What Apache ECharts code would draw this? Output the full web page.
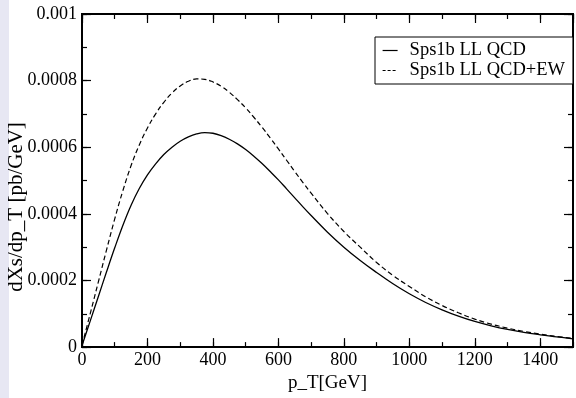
<!DOCTYPE html>
<html>
<head>
<meta charset="utf-8">
<script src="https://cdn.jsdelivr.net/npm/echarts@6/dist/echarts.min.js"></script>
<style>
html,body{margin:0;padding:0;background:#fff;}
#strip{position:absolute;left:0;top:0;width:9px;height:398px;background:#e7e7f3;}
#c{position:absolute;left:0;top:0;width:576px;height:398px;}
</style>
</head>
<body>
<div id="strip"></div>
<div id="c"></div>
<script>
const ptValues = [0,25,50,75,100,125,150,175,200,225,250,275,300,325,350,375,400,425,450,475,500,525,550,575,600,625,650,675,700,750,800,850,900,950,1000,1050,1100,1150,1200,1250,1300,1350,1400,1450,1500];
const qcdValues = [0.000005,0.000078,0.000152,0.000226,0.000298,0.000366,0.000426,0.000476,0.000517,0.00055,0.000578,0.0006,0.000618,0.000631,0.00064,0.000644,0.000642,0.000635,0.000624,0.00061,0.000593,0.000573,0.000551,0.000527,0.000502,0.000475,0.000448,0.000421,0.000395,0.000345,0.0003,0.00026,0.000224,0.00019,0.00016,0.000134,0.000112,0.000093,0.000077,0.000064,0.000053,0.000044,0.000037,0.000031,0.000025];
const qcdEwValues = [0.000005,0.0001,0.000196,0.000292,0.000385,0.00047,0.000545,0.000607,0.000658,0.0007,0.000735,0.000763,0.000784,0.000798,0.000805,0.000804,0.000796,0.000783,0.000765,0.000743,0.000718,0.00069,0.00066,0.000628,0.000595,0.000561,0.000527,0.000494,0.000462,0.000401,0.000347,0.0003,0.000254,0.000215,0.000182,0.000151,0.000125,0.000103,0.000084,0.000069,0.000057,0.000047,0.000039,0.000032,0.000026];
const seriesNames = ['Sps1b LL QCD','Sps1b LL QCD+EW'];
const xTitle = 'p_T[GeV]';
const yTitle = 'dXs/dp_T [pb/GeV]';

const FONT = 'Liberation Serif';
const chart = echarts.init(document.getElementById('c'), null, {renderer:'canvas'});

function mkX(pos, interval, len, labels){
  return {
    type:'value', position:pos, min:0, max:1500, interval:interval,
    axisLine:{show:true, onZero:false, lineStyle:{color:'#000', width:2}},
    axisTick:{show:true, inside:true, length:len, lineStyle:{color:'#000', width:1.2}},
    splitLine:{show:false},
    axisLabel:{show:labels, color:'#000', fontFamily:FONT, fontSize:18, margin:4, showMaxLabel:false,
      formatter: v => String(v)},
    name: labels ? xTitle : '', nameLocation:'middle', nameGap:23,
    nameTextStyle:{color:'#000', fontFamily:FONT, fontSize:19}
  };
}
function mkY(pos, interval, len, labels){
  return {
    type:'value', position:pos, min:0, max:0.001, interval:interval,
    axisLine:{show:true, onZero:false, lineStyle:{color:'#000', width:2}},
    axisTick:{show:true, inside:true, length:len, lineStyle:{color:'#000', width:1.2}},
    splitLine:{show:false},
    axisLabel:{show:labels, color:'#000', fontFamily:FONT, fontSize:18, margin:5,
      formatter: v => String(+v.toFixed(5))}
  };
}

chart.setOption({
  backgroundColor:'transparent',
  animation:false,
  grid:{left:82, right:3, top:14, bottom:42},
  xAxis:[mkX('bottom',200,9,true), mkX('bottom',100,5,false), mkX('top',200,9,false), mkX('top',100,5,false)],
  yAxis:[mkY('left',0.0002,9,true), mkY('left',0.0001,5,false), mkY('right',0.0002,9,false), mkY('right',0.0001,5,false)],
  legend:{
    show:true, left:375, top:37, orient:'vertical',
    padding:[4,8,4,7], itemGap:1, itemWidth:15, itemHeight:14,
    borderColor:'#000', borderWidth:1, backgroundColor:'#fff', borderRadius:0,
    itemStyle:{color:'rgba(0,0,0,0)', borderWidth:0, opacity:0},
    textStyle:{color:'#000', fontFamily:FONT, fontSize:18.5, padding:[0,0,0,7]},
    data:[
      {name:seriesNames[0], lineStyle:{type:'solid', width:1.2, color:'#000'}},
      {name:seriesNames[1], lineStyle:{type:[3,2], width:1.2, color:'#000'}}
    ]
  },
  series:[
    {name:seriesNames[0], type:'line', symbol:'none', smooth:0.4,
     data: ptValues.map((x,i)=>[x, qcdValues[i]]),
     lineStyle:{color:'#000', width:1.3, type:'solid'}, itemStyle:{color:'#000'}},
    {name:seriesNames[1], type:'line', symbol:'none', smooth:0.4,
     data: ptValues.map((x,i)=>[x, qcdEwValues[i]]),
     lineStyle:{color:'#000', width:1.2, type:[5,3]}, itemStyle:{color:'#000'}}
  ],
  graphic:[{
    type:'text', x:16, y:207, rotation:Math.PI/2,
    style:{text:yTitle, fill:'#000', font:'21px "Liberation Serif"', textAlign:'center', textVerticalAlign:'middle'}
  }]
});
</script>
</body>
</html>
